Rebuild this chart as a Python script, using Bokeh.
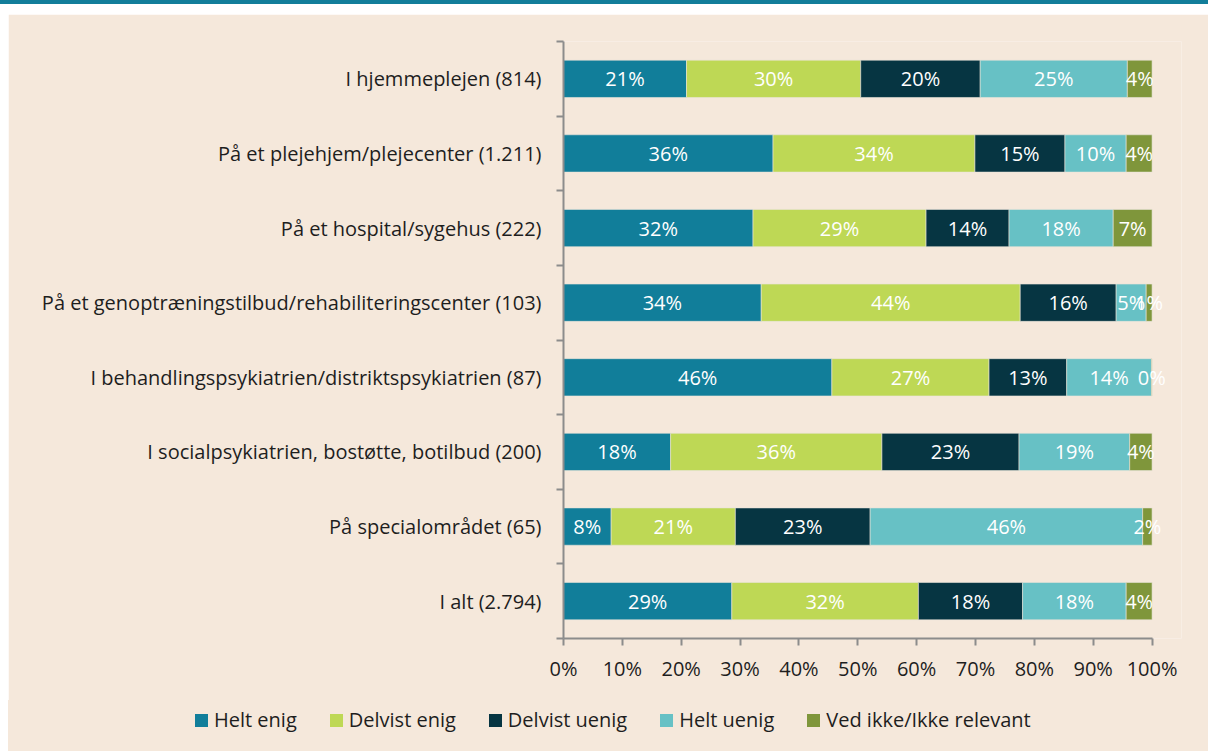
import math
import numpy as np
from bokeh.plotting import figure
from bokeh.models import (ColumnDataSource, FixedTicker, Range1d,
                          PrintfTickFormatter, Div, Spacer)
from bokeh.layouts import column, row
from bokeh.core.properties import value
from bokeh.embed import file_html
from bokeh.resources import INLINE

categories = [
    "I hjemmeplejen (814)",
    "På et plejehjem/plejecenter (1.211)",
    "På et hospital/sygehus (222)",
    "På et genoptræningstilbud/rehabiliteringscenter (103)",
    "I behandlingspsykiatrien/distriktspsykiatrien (87)",
    "I socialpsykiatrien, bostøtte, botilbud (200)",
    "På specialområdet (65)",
    "I alt (2.794)",
]
series = ["Helt enig", "Delvist enig", "Delvist uenig", "Helt uenig", "Ved ikke/Ikke relevant"]
helt_enig = [20.9, 35.6, 32.2, 33.6, 45.6, 18.2, 8.1, 28.6]
delvist_enig = [29.6, 34.3, 29.4, 44.0, 26.7, 35.9, 21.1, 31.7]
delvist_uenig = [20.3, 15.3, 14.1, 16.3, 13.2, 23.3, 22.9, 17.7]
helt_uenig = [25.0, 10.4, 17.7, 5.1, 14.4, 18.8, 46.3, 17.6]
ved_ikke = [4.2, 4.4, 6.6, 1.0, 0.1, 3.8, 1.6, 4.4]
x_ticks = [0, 10, 20, 30, 40, 50, 60, 70, 80, 90, 100]

colors = ["#117E9A", "#BED855", "#063542", "#67C1C5", "#7F963B"]
BG = "#F5E8DB"
BAND = "#127E9A"
FONT = "Open Sans"
FS = "20px"
AXIS_COLOR = "#8C8C8C"
TEXT_COLOR = "#1E1E1E"

values = [helt_enig, delvist_enig, delvist_uenig, helt_uenig, ved_ikke]

# x range extends a little past 100 % so that the labels of the last thin
# segments are not clipped; the axis line itself is bounded to 0-100.
p = figure(width=1200, height=686, output_backend="svg", toolbar_location=None,
           x_range=Range1d(0, 105), y_range=Range1d(8, 0),
           min_border_left=555, min_border_right=27, min_border_top=27, min_border_bottom=62)
p.background_fill_color = BG
p.border_fill_color = BG
p.outline_line_color = None
p.xgrid.visible = False
p.ygrid.visible = False

ypos = [i + 0.5 for i in range(len(categories))]
left = np.zeros(len(categories))
for name, vals, col in zip(series, values, colors):
    vals = np.array(vals, dtype=float)
    right = left + vals
    src = ColumnDataSource(dict(y=ypos, left=left, right=right,
                                xc=(left + right) / 2,
                                lab=[f"{int(math.floor(v + 0.5))}%" for v in vals]))
    p.hbar(y="y", left="left", right="right", height=0.5, source=src,
           fill_color=col, line_color="#E9E4DA", line_width=0.6)
    p.text(x="xc", y="y", text="lab", source=src, text_color="white",
           text_font=value(FONT), text_font_size=FS,
           text_align="center", text_baseline="middle")
    left = right

# y axis: labels at category centres, tick marks at category boundaries
yax = p.yaxis[0]
yax.ticker = FixedTicker(ticks=ypos, minor_ticks=list(range(len(categories) + 1)))
yax.major_label_overrides = {y: c for y, c in zip(ypos, categories)}
yax.major_tick_out = 0
yax.major_tick_in = 0
yax.minor_tick_out = 7
yax.minor_tick_in = 0
yax.minor_tick_line_color = AXIS_COLOR
yax.minor_tick_line_width = 2
yax.axis_line_color = AXIS_COLOR
yax.axis_line_width = 2
yax.major_label_standoff = 15
yax.major_label_text_font = FONT
yax.major_label_text_font_size = FS
yax.major_label_text_color = TEXT_COLOR

xax = p.xaxis[0]
xax.bounds = (0, 100)
xax.ticker = FixedTicker(ticks=x_ticks, minor_ticks=[])
xax.formatter = PrintfTickFormatter(format="%d%%")
xax.major_tick_out = 7
xax.major_tick_in = 0
xax.major_tick_line_color = AXIS_COLOR
xax.major_tick_line_width = 2
xax.axis_line_color = AXIS_COLOR
xax.axis_line_width = 2
xax.major_label_standoff = 9
xax.major_label_text_font = FONT
xax.major_label_text_font_size = FS
xax.major_label_text_color = TEXT_COLOR

# legend strip (HTML) below the chart
items_html = "".join(
    f'<span style="display:inline-flex;align-items:center;margin-right:33px;">'
    f'<span style="display:inline-block;width:13px;height:13px;background:{c};margin-right:6px;"></span>'
    f'{s}</span>'
    for s, c in zip(series, colors))
legend_html = (
    f'<div style="box-sizing:border-box;width:1200px;height:40px;display:flex;align-items:center;'
    f'padding-left:187px;font-family:\'{FONT}\';font-size:{FS};color:{TEXT_COLOR};'
    f'white-space:nowrap;line-height:1;">{items_html}</div>')
legend_div = Div(text=legend_html, width=1200, height=51, margin=0,
                 styles={"background-color": BG})

band = Div(text="", width=1208, height=4, margin=0, styles={"background-color": BAND})
gap = Spacer(width=1208, height=10, margin=0)
body = row(Spacer(width=8, height=686, margin=0), p, spacing=0, margin=0)
foot = row(Spacer(width=8, height=51, margin=0), legend_div, spacing=0, margin=0)
layout = column(band, gap, body, foot, spacing=0, margin=0)

open("out.html", "w").write(file_html(layout, INLINE))
